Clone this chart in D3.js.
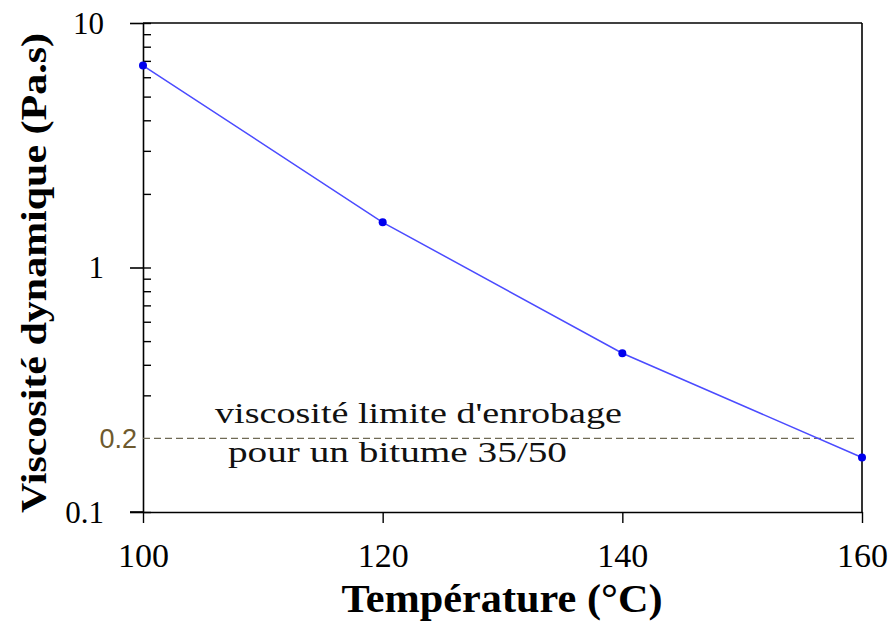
<!DOCTYPE html>
<html><head><meta charset="utf-8">
<script src="https://cdn.jsdelivr.net/npm/d3@7"></script>
<style>html,body{margin:0;padding:0;background:#fff;}svg{display:block;}</style>
</head><body>
<svg id="chart" width="894" height="628"></svg>
<script>
const temperatures = [100, 120, 140, 160];
const viscosities = [6.7, 1.53, 0.446, 0.167];
const xTickValues = [100, 120, 140, 160];
const yMajorTicks = [0.1, 1, 10];
const yMinorTicks = [0.2,0.3,0.4,0.5,0.6,0.7,0.8,0.9,2,3,4,5,6,7,8,9];
const threshold = 0.2;
const thresholdLabel = "0.2";
const annotationLines = ["viscosité limite d'enrobage", "pour un bitume 35/50"];
const xTitle = "Température (°C)";
const yTitle = "Viscosité dynamique (Pa.s)";

const svg = d3.select("#chart");
const L = 143, R = 862, T = 23, B = 512;
const x = d3.scaleLinear().domain([100, 160]).range([L, R]);
const y = d3.scaleLog().domain([0.1, 10]).range([B, T]);

const serif = "Liberation Serif";

// frame: top and right
svg.append("line").attr("x1", L).attr("x2", R).attr("y1", T).attr("y2", T)
  .attr("stroke", "#000").attr("stroke-width", 1.6);
svg.append("line").attr("x1", R).attr("x2", R).attr("y1", T).attr("y2", B)
  .attr("stroke", "#000").attr("stroke-width", 1.6);

// y axis major (outward + labels)
const yAxis = svg.append("g").attr("transform", `translate(${L},0)`)
  .call(d3.axisLeft(y).tickValues(yMajorTicks).tickSize(13).tickSizeOuter(0)
    .tickPadding(26).tickFormat(d => d3.format("~g")(d)));
yAxis.attr("font-family", null).attr("font-size", null);
yAxis.select(".domain").attr("stroke-width", 1.6);
yAxis.selectAll(".tick line").attr("stroke-width", 1.6);
yAxis.selectAll(".tick text").style("font-family", serif).style("font-size", "31px")
  .attr("fill", "#000").attr("dy", "0.33em");

// y axis inner ticks (major + minor)
const yInner = svg.append("g").attr("transform", `translate(${L},0)`)
  .call(d3.axisRight(y).tickValues(yMajorTicks.concat(yMinorTicks).filter(v => v !== threshold))
    .tickSize(8).tickSizeOuter(0).tickFormat(""));
yInner.select(".domain").remove();
yInner.selectAll(".tick line").attr("stroke-width", 1.4);

// x axis
const xAxis = svg.append("g").attr("transform", `translate(0,${B})`)
  .call(d3.axisBottom(x).tickValues(xTickValues).tickSize(11).tickSizeOuter(0)
    .tickPadding(20).tickFormat(d3.format("d")));
xAxis.attr("font-family", null).attr("font-size", null);
xAxis.select(".domain").attr("stroke-width", 1.6);
xAxis.selectAll(".tick line").attr("stroke-width", 1.4);
xAxis.selectAll(".tick text").style("font-family", serif).style("font-size", "34px")
  .attr("fill", "#000").attr("dy", "0.72em");
// extend bottom axis line to the left
svg.append("line").attr("x1", 130).attr("x2", L).attr("y1", B).attr("y2", B)
  .attr("stroke", "#000").attr("stroke-width", 1.6);

// threshold dashed line
svg.append("line").attr("x1", L).attr("x2", 855)
  .attr("y1", y(threshold)).attr("y2", y(threshold))
  .attr("stroke", "#6f6a55").attr("stroke-width", 1.4).attr("stroke-dasharray", "7,4");
svg.append("text").attr("x", 137).attr("y", y(threshold)).attr("dy", "0.36em")
  .attr("text-anchor", "end").style("font-family", "Liberation Sans")
  .style("font-size", "27px").attr("fill", "#6e5a2e").text(thresholdLabel);

// annotation
const annX = [215, 228], annY = [423, 462], annW = [407, 339];
annotationLines.forEach((t, i) => {
  svg.append("text").attr("x", annX[i]).attr("y", annY[i])
    .style("font-family", serif).style("font-size", "29px")
    .attr("textLength", annW[i]).attr("lengthAdjust", "spacingAndGlyphs")
    .attr("fill", "#111").text(t);
});

// data line + points
const pts = temperatures.map((t, i) => [t, viscosities[i]]);
svg.append("path").datum(pts)
  .attr("d", d3.line().x(d => x(d[0])).y(d => y(d[1])))
  .attr("fill", "none").attr("stroke", "#4b4bff").attr("stroke-width", 1.5);
svg.selectAll("circle.pt").data(pts).join("circle").attr("class", "pt")
  .attr("cx", d => x(d[0])).attr("cy", d => y(d[1])).attr("r", 4)
  .attr("fill", "#0000ee");

// titles
svg.append("text").attr("x", 502).attr("y", 612).attr("text-anchor", "middle")
  .style("font-family", serif).style("font-weight", "bold").style("font-size", "39px")
  .attr("textLength", 321).attr("lengthAdjust", "spacingAndGlyphs")
  .attr("fill", "#000").text(xTitle);
svg.append("text").attr("transform", "translate(46,273) rotate(-90)")
  .attr("text-anchor", "middle")
  .style("font-family", serif).style("font-weight", "bold").style("font-size", "35px")
  .attr("textLength", 480).attr("lengthAdjust", "spacingAndGlyphs")
  .attr("fill", "#000").text(yTitle);
</script>
</body></html>
